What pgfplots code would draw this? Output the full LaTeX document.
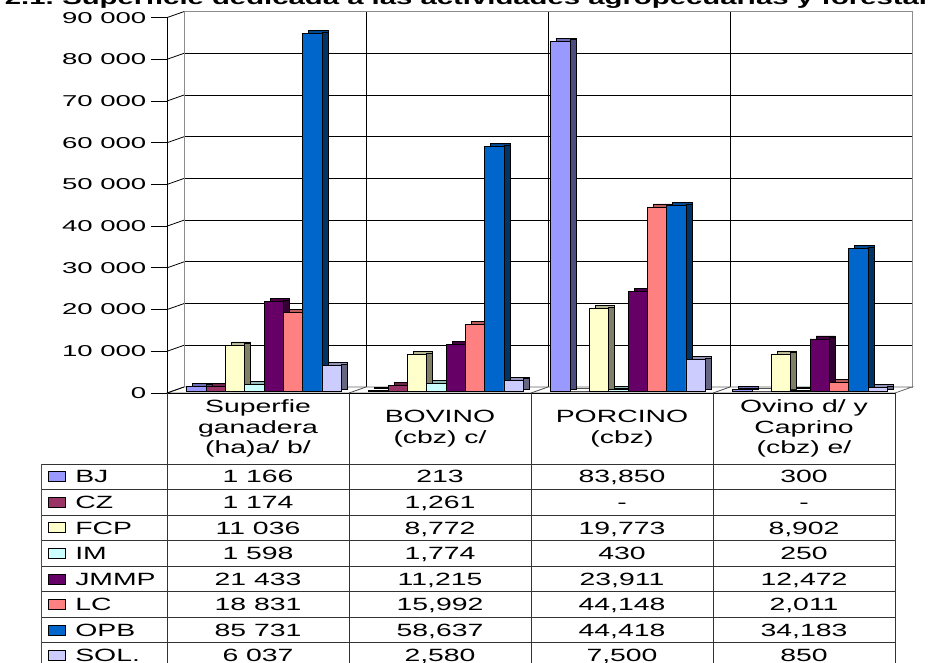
\documentclass[border=0pt]{standalone}
\usepackage{pgfplots}
\pgfplotsset{compat=1.18}
\usepackage{pgfplotstable}
\usepackage{fontspec}
\setmainfont{Liberation Sans}
\newfontfamily\tickfont{Liberation Sans}[FakeStretch=1.75]
\newfontfamily\tablefont{Liberation Sans}[FakeStretch=1.6]
\newfontfamily\titlefont{Liberation Sans}[FakeStretch=1.57, Ligatures=NoCommon]

% front colours of the columns
\definecolor{cBJ}{HTML}{9999FF}
\definecolor{cCZ}{HTML}{993366}
\definecolor{cFCP}{HTML}{FFFFCC}
\definecolor{cIM}{HTML}{CCFFFF}
\definecolor{cJMMP}{HTML}{660066}
\definecolor{cLC}{HTML}{FF8080}
\definecolor{cOPB}{HTML}{0066CC}
\definecolor{cSOL}{HTML}{CCCCFF}
% top (t) and side (s) shades
\colorlet{tBJ}{cBJ!72!black}     \colorlet{sBJ}{cBJ!50!black}
\colorlet{tCZ}{cCZ!72!black}     \colorlet{sCZ}{cCZ!50!black}
\colorlet{tFCP}{cFCP!72!black}   \colorlet{sFCP}{cFCP!50!black}
\colorlet{tIM}{cIM!72!black}     \colorlet{sIM}{cIM!50!black}
\colorlet{tJMMP}{cJMMP!72!black} \colorlet{sJMMP}{cJMMP!50!black}
\colorlet{tLC}{cLC!72!black}     \colorlet{sLC}{cLC!50!black}
\colorlet{tOPB}{cOPB!72!black}   \colorlet{sOPB}{cOPB!50!black}
\colorlet{tSOL}{cSOL!72!black}   \colorlet{sSOL}{cSOL!50!black}

% 0 = Superficie ganadera, 1 = Bovino, 2 = Porcino, 3 = Ovino y Caprino
\pgfplotstableread{
cat BJ    CZ   FCP   IM   JMMP  LC    OPB   SOL
0   1166  1174 11036 1598 21433 18831 85731 6037
1   213   1261 8772  1774 11215 15992 58637 2580
2   83850 0    19773 430  23911 44148 44418 7500
3   300   0    8902  250  12472 2011  34183 850
}\datatab

\pgfplotsset{
  plane/.style={scale only axis, width=546pt, height=281.55pt,
    xmin=-0.5, xmax=3.5, ymin=0, ymax=90000, anchor=south west, clip=false,
    scaled y ticks=false, scaled x ticks=false},
  barplane/.style={plane, hide axis, ybar=0pt, bar width=14.475pt},
}

\newcommand\tabfont{\tablefont\fontsize{13.3pt}{15.4pt}\selectfont}
\newcommand\ttlfont{\titlefont\bfseries\fontsize{14pt}{15pt}\selectfont}

% one row of the data table: index, name, colour, four values
\newcommand\trow[7]{%
  \pgfmathsetmacro\ry{464+25.53*#1+12.76}%
  \filldraw[fill=#3, draw=black, line width=0.5pt] (48,\ry-5) rectangle (65,\ry+5);
  \node[anchor=base west, inner sep=0pt, font=\tabfont] at (75,\ry+6.2) {#2};
  \node[anchor=base, inner sep=0pt, font=\tabfont] at (258,\ry+6.2) {#4};
  \node[anchor=base, inner sep=0pt, font=\tabfont] at (440,\ry+6.2) {#5};
  \node[anchor=base, inner sep=0pt, font=\tabfont] at (622,\ry+6.2) {#6};
  \node[anchor=base, inner sep=0pt, font=\tabfont] at (804,\ry+6.2) {#7};
}

% side face of one series: name, horizontal shift
\newcommand\sideface[2]{%
  \addplot[fill=s#1, draw=black, line width=0.5pt, bar width=4.5pt, bar shift=#2]
    table[x=cat, y=#1] {\datatab};}

\begin{document}
\begin{tikzpicture}
% back wall with its grid
\begin{axis}[plane, at={(138pt,-290.25pt)},
  xtick={0.5,1.5,2.5}, ytick={10000,20000,...,80000},
  xticklabels={}, yticklabels={}, major tick length=0pt,
  xmajorgrids, ymajorgrids, grid style={black, line width=0.75pt},
  axis line style={black!45, line width=0.75pt}]
\end{axis}

\begin{scope}[x=0.75pt, y=-0.75pt]
  % floor
  \filldraw[fill=white, draw=black!60, line width=0.6pt]
    (167,393) -- (895,393) -- (912,387) -- (184,387) -- cycle;
  \foreach \xx in {349,531,713}
    \draw[black!70, line width=0.6pt] (\xx,393) -- (\xx+17,387);
  % side wall: diagonals at each tick level
  \foreach \k in {0,...,9}
    \draw[black, line width=0.6pt] (167,{393-\k*41.711}) -- (184,{387-\k*41.711});
\end{scope}

% top faces of the columns
\begin{axis}[barplane, at={(134.25pt,-291pt)}]
  \pgfplotsinvokeforeach{BJ,CZ,FCP,IM,JMMP,LC,OPB,SOL}{
    \addplot[fill=t#1, draw=black, line width=0.5pt] table[x=cat, y=#1] {\datatab};
  }
\end{axis}

% side faces of the columns
\begin{axis}[barplane, at={(129.75pt,-292.125pt)}]
  \sideface{BJ}{-41.175pt}
  \sideface{CZ}{-26.7pt}
  \sideface{FCP}{-12.225pt}
  \sideface{IM}{2.25pt}
  \sideface{JMMP}{16.725pt}
  \sideface{LC}{31.2pt}
  \sideface{OPB}{45.675pt}
  \sideface{SOL}{60.15pt}
\end{axis}

% front faces of the columns
\begin{axis}[barplane, at={(129.75pt,-293.25pt)}]
  \pgfplotsinvokeforeach{BJ,CZ,FCP,IM,JMMP,LC,OPB,SOL}{
    \addplot[fill=c#1, draw=black, line width=0.5pt] table[x=cat, y=#1] {\datatab};
  }
\end{axis}

% value axis
\begin{axis}[plane, at={(125.25pt,-294.75pt)},
  axis line style={draw=none}, xtick=\empty, ytick pos=left,
  ytick={0,10000,...,90000},
  yticklabels={0,10 000,20 000,30 000,40 000,50 000,60 000,70 000,80 000,90 000},
  tick align=outside, major tick length=12pt,
  ytick style={black, line width=0.6pt},
  yticklabel style={font=\tickfont\fontsize{11.8pt}{12pt}\selectfont},
  /pgf/number format/assume math mode=true]
\end{axis}

\begin{scope}[x=0.75pt, y=-0.75pt]
  % front edge of the value axis
  \draw[black, line width=0.6pt] (167,393) -- (167,17.6);
  % data table grid
  \draw[black, line width=0.6pt] (151,393) -- (895,393);
  \draw[black!80, line width=0.6pt] (41,464) -- (895,464);
  \foreach \k in {1,...,8}
    \draw[black!80, line width=0.6pt] (41,{464+25.53*\k}) -- (895,{464+25.53*\k});
  \draw[black!70, line width=0.6pt] (41,464) -- (41,680);
  \foreach \xx in {167,349,531,713,895}
    \draw[black!80, line width=0.6pt] (\xx,393) -- (\xx,680);
  % column headers
  \node[align=center, inner sep=0pt, font=\tabfont] at (258,428.5) {Superfie\\ganadera\\(ha)a/ b/};
  \node[align=center, inner sep=0pt, font=\tabfont] at (440,428.5) {BOVINO\\(cbz) c/};
  \node[align=center, inner sep=0pt, font=\tabfont] at (622,428.5) {PORCINO\\(cbz)};
  \node[align=center, inner sep=0pt, font=\tabfont] at (804,428.5) {Ovino d/ y\\Caprino\\(cbz) e/};
  % rows
  \trow{0}{BJ}{cBJ}{1 166}{213}{83,850}{300}
  \trow{1}{CZ}{cCZ}{1 174}{1,261}{-}{-}
  \trow{2}{FCP}{cFCP}{11 036}{8,772}{19,773}{8,902}
  \trow{3}{IM}{cIM}{1 598}{1,774}{430}{250}
  \trow{4}{JMMP}{cJMMP}{21 433}{11,215}{23,911}{12,472}
  \trow{5}{LC}{cLC}{18 831}{15,992}{44,148}{2,011}
  \trow{6}{OPB}{cOPB}{85 731}{58,637}{44,418}{34,183}
  \trow{7}{SOL.}{cSOL}{6 037}{2,580}{7,500}{850}
  % title
  \node[anchor=base west, inner sep=0pt, font=\ttlfont]
    at (62,5) {Superficie dedicada a las actividades agropecuarias y forestales};
  \node[anchor=base east, inner sep=0pt, font=\ttlfont]
    at (54,5) {Gráfica 2.1.};
\end{scope}

\pgfresetboundingbox
\path[use as bounding box] (0pt,0pt) rectangle (696pt,-497.25pt);
\end{tikzpicture}
\end{document}
